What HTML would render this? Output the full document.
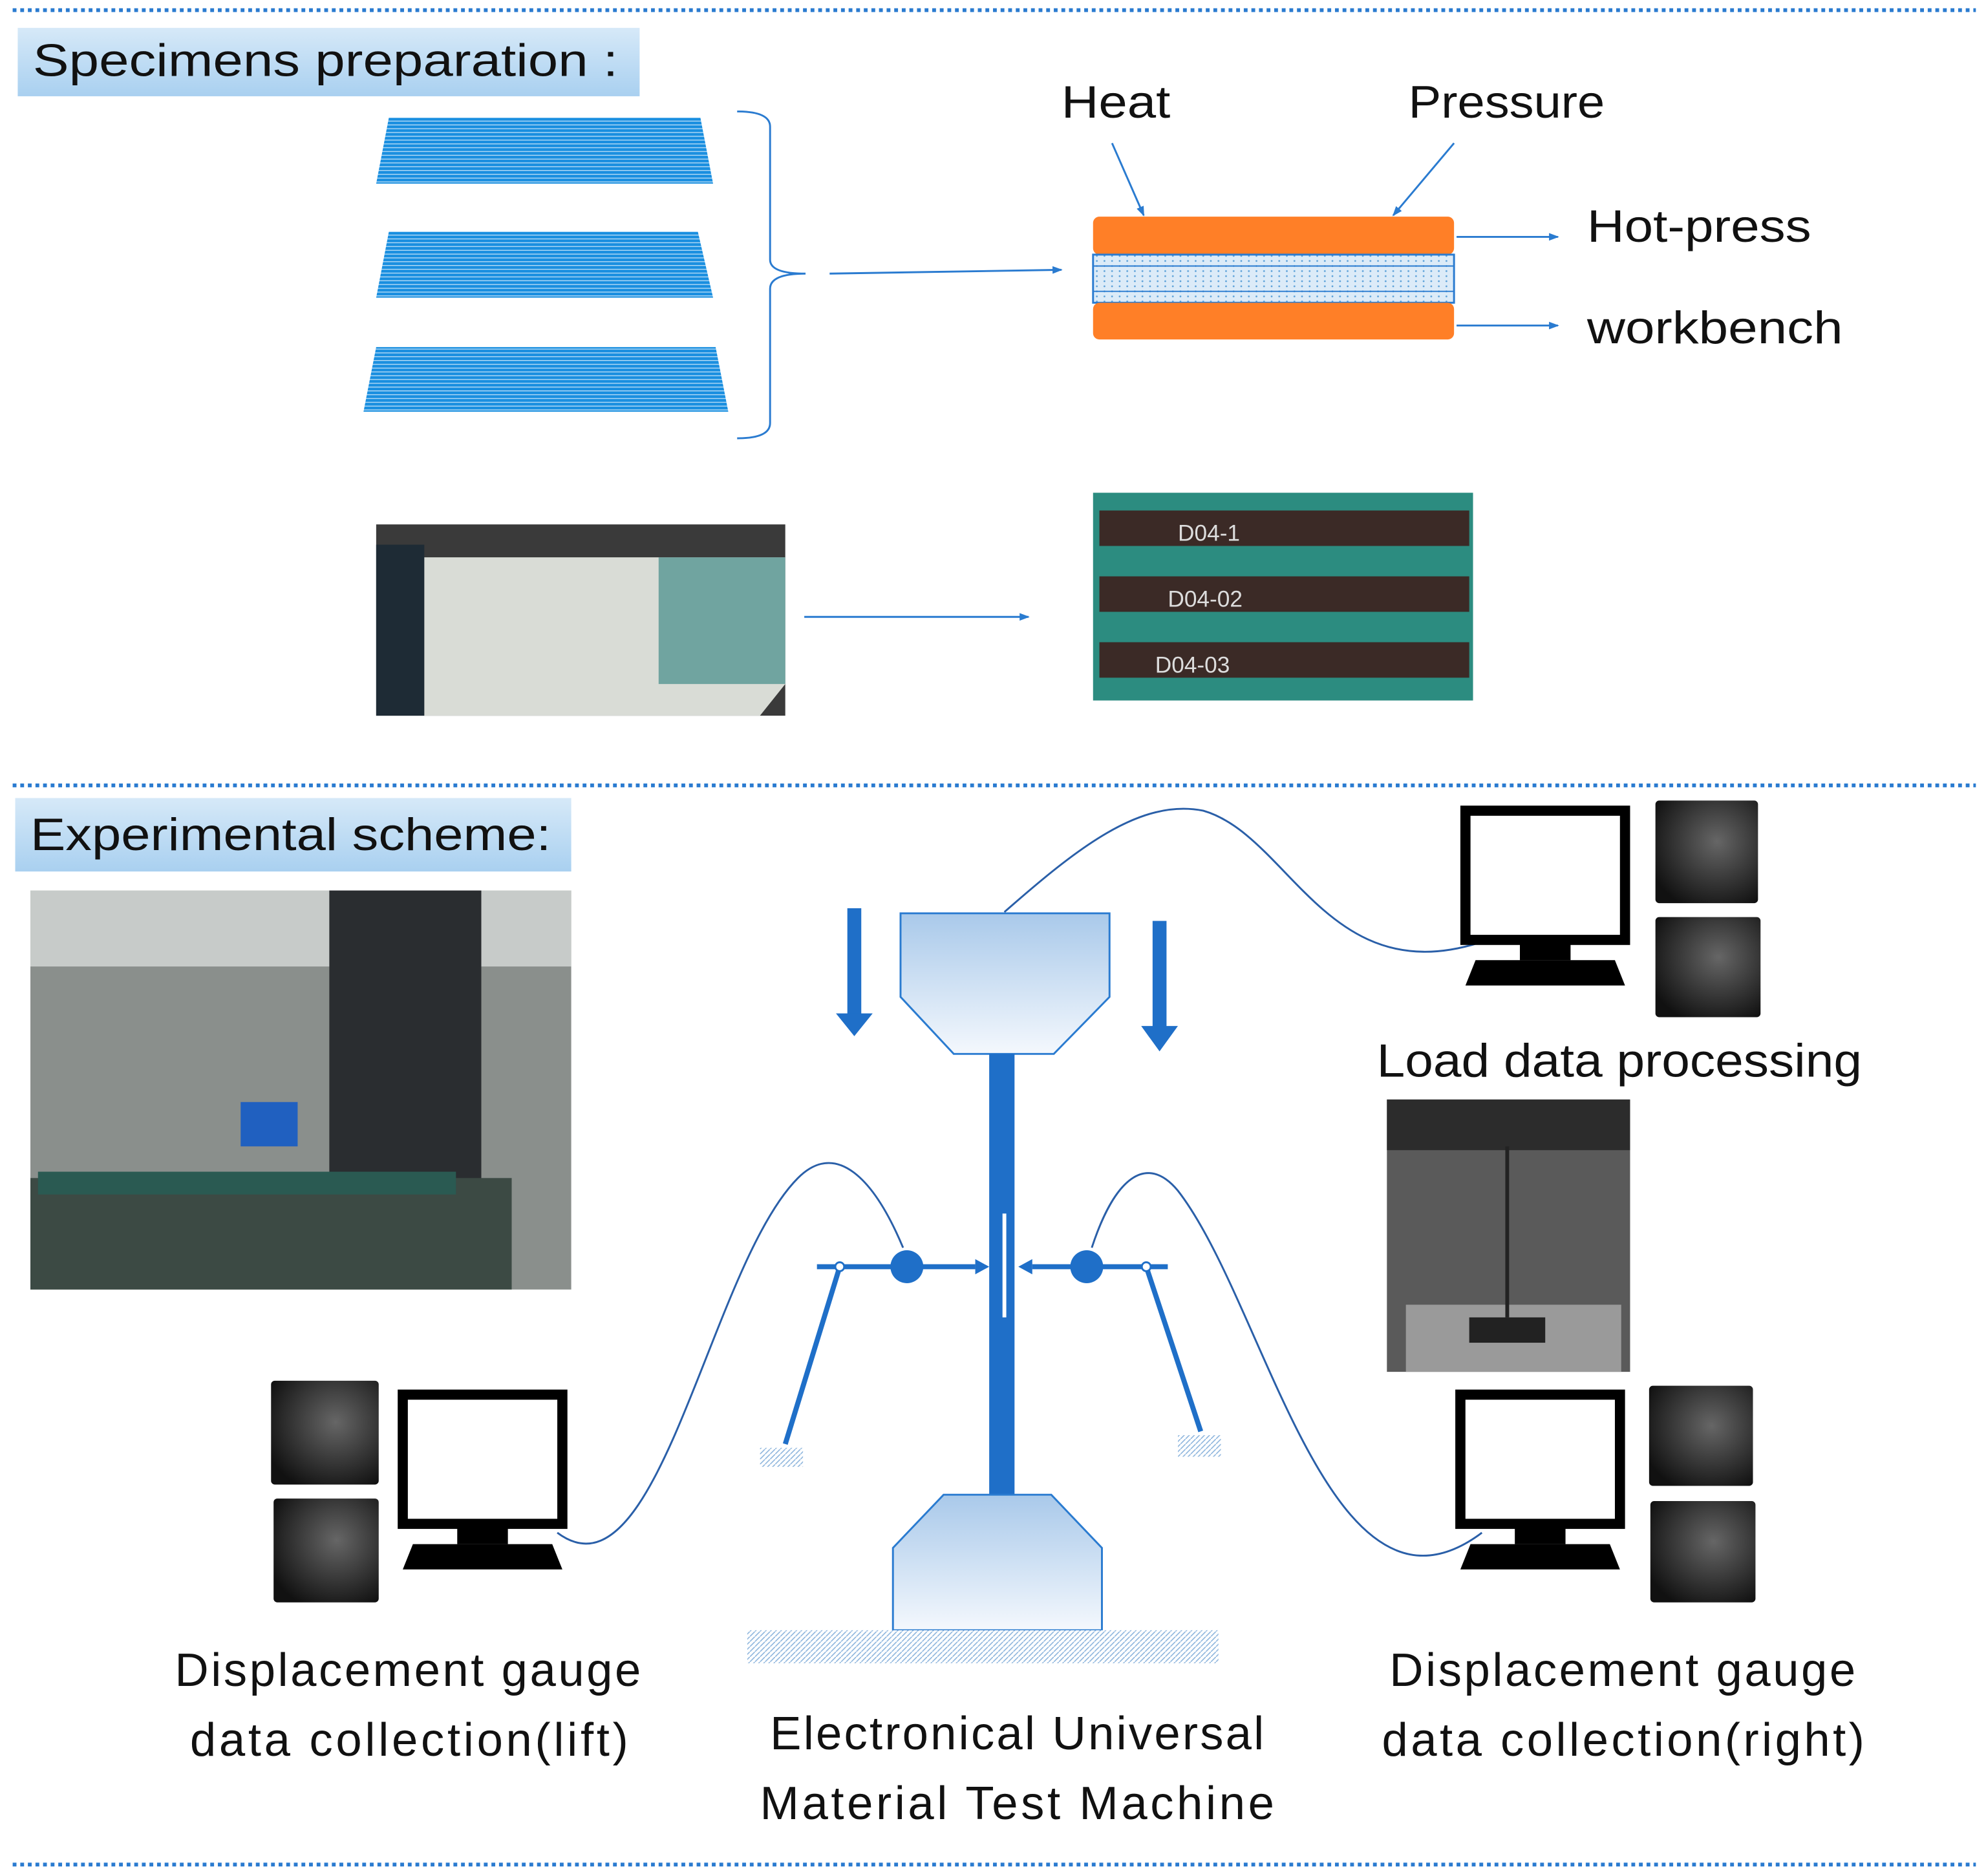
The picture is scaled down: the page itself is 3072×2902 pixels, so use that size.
<!DOCTYPE html>
<html><head><meta charset="utf-8"><style>
html,body{margin:0;padding:0;background:#fff}
svg{display:block}
text{font-family:"Liberation Sans","DejaVu Sans",sans-serif;fill:#111}
</style></head><body>
<svg width="3072" height="2902" viewBox="0 0 1568 1481" preserveAspectRatio="none" xmlns="http://www.w3.org/2000/svg">
<defs>
<linearGradient id="lab" x1="0" y1="0" x2="0" y2="1"><stop offset="0" stop-color="#d6e9f8"/><stop offset="1" stop-color="#a9d0f0"/></linearGradient>
<linearGradient id="mach" x1="0" y1="0" x2="0" y2="1"><stop offset="0" stop-color="#a9c9ea"/><stop offset="1" stop-color="#f4f8fd"/></linearGradient>
<pattern id="stripes" width="4" height="3" patternUnits="userSpaceOnUse"><rect width="4" height="3" fill="#1a8fe0"/><rect y="2.3" width="4" height="0.6" fill="#cfe8fa"/></pattern>
<pattern id="hatch" width="4" height="4" patternUnits="userSpaceOnUse"><rect width="4" height="4" fill="#fff"/><path d="M0 4L4 0" stroke="#8ab3dc" stroke-width="0.8"/></pattern>
<pattern id="press" width="6" height="4" patternUnits="userSpaceOnUse"><rect width="6" height="4" fill="#dcebf8"/><circle cx="2" cy="2" r="0.7" fill="#5aa0d8"/></pattern>
<radialGradient id="scr" cx="0.6" cy="0.4" r="0.7"><stop offset="0" stop-color="#666"/><stop offset="1" stop-color="#111"/></radialGradient>
<marker id="ar" markerWidth="8" markerHeight="8" refX="7" refY="4" orient="auto" markerUnits="userSpaceOnUse"><path d="M0 1L8 4L0 7z" fill="#2a7bd0"/></marker>
</defs>
<g stroke="#2a7bd0" stroke-width="3" stroke-dasharray="3 3">
<line x1="10" y1="8" x2="1560" y2="8"/><line x1="10" y1="620" x2="1560" y2="620"/><line x1="10" y1="1472" x2="1560" y2="1472"/>
</g>
<rect x="14" y="22" width="491" height="54" fill="url(#lab)"/>
<text x="26" y="60" font-size="36" textLength="462" lengthAdjust="spacingAndGlyphs">Specimens preparation :</text>
<polygon points="307,93 553,93 563,145 297,145" fill="url(#stripes)"/>
<polygon points="307,183 551,183 563,235 297,235" fill="url(#stripes)"/>
<polygon points="297,274 565,274 575,325 287,325" fill="url(#stripes)"/>
<path d="M582 88 Q608 88 608 100 L608 205 Q608 216 636 216 Q608 216 608 228 L608 334 Q608 346 582 346" fill="none" stroke="#2a7bd0" stroke-width="1.5"/>
<g stroke="#2a7bd0" stroke-width="1.5" fill="none" marker-end="url(#ar)">
<line x1="655" y1="216" x2="838" y2="213"/>
<line x1="878" y1="113" x2="903" y2="170"/>
<line x1="1148" y1="113" x2="1100" y2="170"/>
<line x1="1150" y1="187" x2="1230" y2="187"/>
<line x1="1150" y1="257" x2="1230" y2="257"/>
<line x1="635" y1="487" x2="812" y2="487"/>
</g>
<rect x="863" y="171" width="285" height="30" rx="5" fill="#ff7f27"/>
<rect x="863" y="201" width="285" height="38" fill="url(#press)" stroke="#2a7bd0" stroke-width="1.5"/>
<line x1="863" y1="210" x2="1148" y2="210" stroke="#2a7bd0"/><line x1="863" y1="230" x2="1148" y2="230" stroke="#2a7bd0"/>
<rect x="863" y="239" width="285" height="29" rx="5" fill="#ff7f27"/>
<text x="838" y="93" font-size="36" textLength="86" lengthAdjust="spacingAndGlyphs">Heat</text>
<text x="1112" y="93" font-size="36" textLength="155" lengthAdjust="spacingAndGlyphs">Pressure</text>
<text x="1253" y="191" font-size="36" textLength="177" lengthAdjust="spacingAndGlyphs">Hot-press</text>
<text x="1253" y="271" font-size="36" textLength="202" lengthAdjust="spacingAndGlyphs">workbench</text>
<rect x="297" y="414" width="323" height="151" fill="#3a3a3a"/>
<polygon points="330,440 620,440 620,540 600,565 330,565" fill="#d9dcd6"/>
<rect x="297" y="430" width="38" height="135" fill="#1e2b35"/>
<rect x="520" y="440" width="100" height="100" fill="#2a7f7c" opacity="0.6"/>
<rect x="863" y="389" width="300" height="164" fill="#2c8c80"/>
<rect x="868" y="403" width="292" height="28" fill="#3b2a26"/>
<rect x="868" y="455" width="292" height="28" fill="#3b2a26"/>
<rect x="868" y="507" width="292" height="28" fill="#3b2a26"/>
<text x="930" y="427" font-size="18" style="fill:#ddd">D04-1</text>
<text x="922" y="479" font-size="18" style="fill:#ddd">D04-02</text>
<text x="912" y="531" font-size="18" style="fill:#ddd">D04-03</text>
<rect x="12" y="630" width="439" height="58" fill="url(#lab)"/>
<text x="24" y="671" font-size="36" textLength="411" lengthAdjust="spacingAndGlyphs">Experimental scheme:</text>
<rect x="24" y="703" width="427" height="315" fill="#8a8f8c"/>
<rect x="24" y="703" width="427" height="60" fill="#c7cbc9"/>
<rect x="260" y="703" width="120" height="300" fill="#2a2d30"/>
<rect x="24" y="930" width="380" height="88" fill="#3c4a44"/>
<rect x="30" y="925" width="330" height="18" fill="#2a5a52"/>
<rect x="190" y="870" width="45" height="35" fill="#2060c0"/>
<rect x="1095" y="868" width="192" height="215" fill="#5a5a5a"/>
<rect x="1095" y="868" width="192" height="40" fill="#2c2c2c"/>
<rect x="1110" y="1030" width="170" height="53" fill="#9a9a9a"/>
<rect x="1160" y="1040" width="60" height="20" fill="#222"/>
<line x1="1190" y1="905" x2="1190" y2="1040" stroke="#222" stroke-width="3"/>
<path d="M711 721 L876 721 L876 787 L832 832 L753 832 L711 787Z" fill="url(#mach)" stroke="#2a7bd0" stroke-width="1.5"/>
<rect x="781" y="832" width="20" height="348" fill="#1f6fc8"/>
<line x1="793" y1="958" x2="793" y2="1040" stroke="#fff" stroke-width="3"/>
<path d="M745 1180 L830 1180 L870 1222 L870 1287 L705 1287 L705 1222Z" fill="url(#mach)" stroke="#2a7bd0" stroke-width="1.5"/>
<rect x="590" y="1287" width="372" height="26" fill="url(#hatch)"/>
<g fill="#1f6fc8">
<rect x="669" y="717" width="11" height="85"/><polygon points="660,800 689,800 674.5,818"/>
<rect x="910" y="727" width="11" height="85"/><polygon points="901,810 930,810 915.5,830"/>
</g>
<g stroke="#1f6fc8" stroke-width="4" fill="none">
<line x1="645" y1="1000" x2="770" y2="1000"/><line x1="663" y1="1000" x2="620" y2="1140"/>
<line x1="815" y1="1000" x2="922" y2="1000"/><line x1="905" y1="1000" x2="948" y2="1130"/>
</g>
<polygon points="770,994 781,1000 770,1006" fill="#1f6fc8"/>
<polygon points="815,994 804,1000 815,1006" fill="#1f6fc8"/>
<circle cx="716" cy="1000" r="13" fill="#1f6fc8"/><circle cx="858" cy="1000" r="13" fill="#1f6fc8"/>
<circle cx="663" cy="1000" r="3.5" fill="#fff" stroke="#1f6fc8" stroke-width="1.5"/>
<circle cx="905" cy="1000" r="3.5" fill="#fff" stroke="#1f6fc8" stroke-width="1.5"/>
<rect x="600" y="1143" width="34" height="15" fill="url(#hatch)"/>
<rect x="930" y="1133" width="34" height="17" fill="url(#hatch)"/>
<g stroke="#2a5fa8" stroke-width="1.5" fill="none">
<path d="M793 720 C850 670 900 630 950 640 C1020 660 1050 790 1180 740"/>
<path d="M713 985 C690 930 660 900 630 930 C560 1000 520 1270 440 1210"/>
<path d="M862 985 C880 930 905 910 930 940 C1000 1030 1050 1300 1170 1210"/>
</g>
<g id="mon">
<rect x="1157" y="640" width="126" height="102" fill="#fff" stroke="#000" stroke-width="8"/>
<rect x="1200" y="744" width="40" height="14" fill="#000"/>
<polygon points="1165,758 1275,758 1283,778 1157,778" fill="#000"/>
</g>
<use href="#mon" transform="translate(-4,461)"/>
<use href="#mon" transform="translate(-839,461)"/>
<g>
<rect x="1307" y="632" width="81" height="81" rx="3" fill="url(#scr)"/>
<rect x="1307" y="724" width="83" height="79" rx="3" fill="url(#scr)"/>
<rect x="1302" y="1094" width="82" height="79" rx="3" fill="url(#scr)"/>
<rect x="1303" y="1185" width="83" height="80" rx="3" fill="url(#scr)"/>
<rect x="214" y="1090" width="85" height="82" rx="3" fill="url(#scr)"/>
<rect x="216" y="1183" width="83" height="82" rx="3" fill="url(#scr)"/>
</g>
<text x="1087" y="850" font-size="37" textLength="383" lengthAdjust="spacingAndGlyphs">Load data processing</text>
<g font-size="37" lengthAdjust="spacingAndGlyphs">
<text x="138" y="1331" textLength="368">Displacement gauge</text>
<text x="150" y="1386" textLength="346">data collection(lift)</text>
<text x="608" y="1381" textLength="390">Electronical Universal</text>
<text x="600" y="1436" textLength="406">Material Test Machine</text>
<text x="1097" y="1331" textLength="368">Displacement gauge</text>
<text x="1091" y="1386" textLength="381">data collection(right)</text>
</g>
</svg>
</body></html>
